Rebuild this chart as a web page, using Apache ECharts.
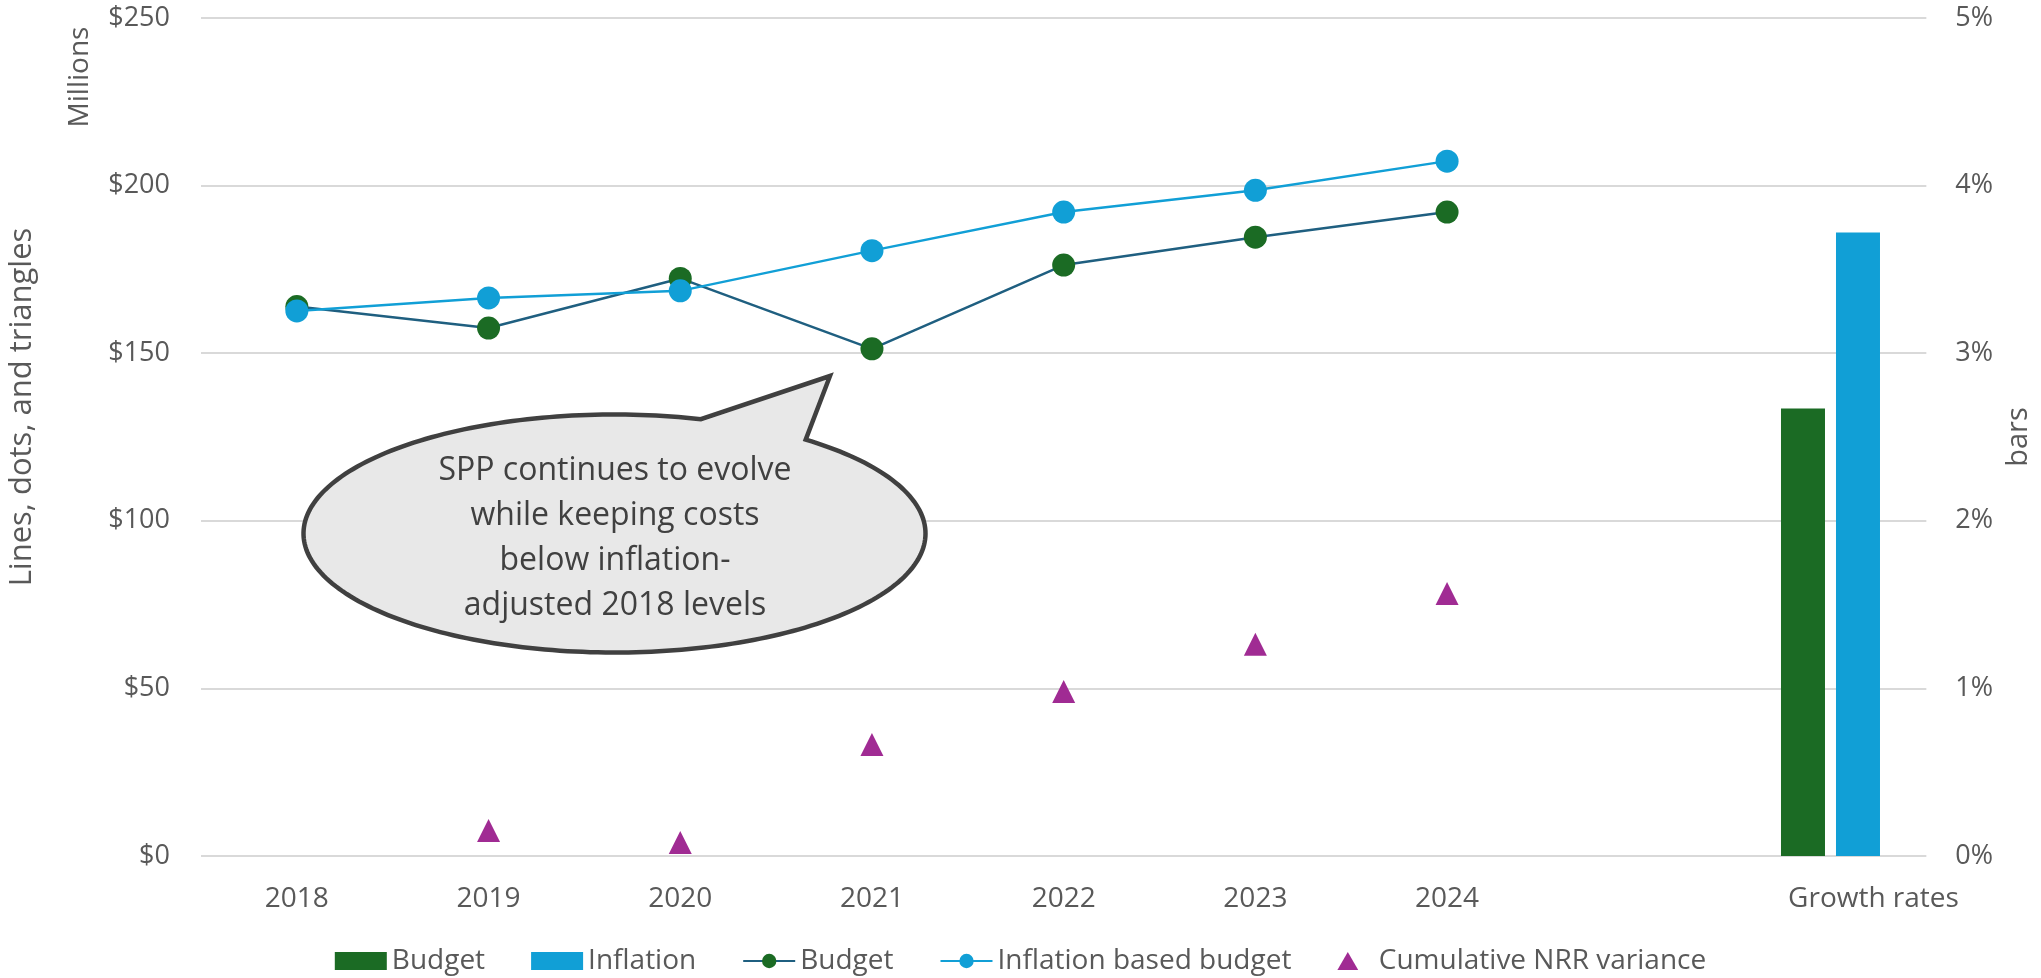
<!DOCTYPE html>
<html>
<head>
<meta charset="utf-8">
<script src="https://cdn.jsdelivr.net/npm/echarts@6/dist/echarts.min.js"></script>
<style>
html,body{margin:0;padding:0;background:#fff;}
#chart{width:2041px;height:978px;}
</style>
</head>
<body>
<div id="chart"></div>
<script>
// ---- data ----
const categories = ['2018','2019','2020','2021','2022','2023','2024','','Growth rates'];
const budgetLine = [163.9, 157.5, 172.3, 151.3, 176.3, 184.6, 192.1, null, null];
const inflationBudgetLine = [162.6, 166.5, 168.6, 180.6, 192.1, 198.6, 207.3, null, null];
const nrrVariance = [null, 7.6, 4.0, 33.3, 49.1, 63.2, 78.3, null, null];
const budgetGrowth = [null, null, null, null, null, null, null, null, 2.67];
const inflationGrowth = [null, null, null, null, null, null, null, null, 3.72];
const leftTicks = { min: 0, max: 250, interval: 50 };
const rightTicks = { min: 0, max: 5, interval: 1 };
const calloutLines = ['SPP continues to evolve', 'while keeping costs', 'below inflation-', 'adjusted 2018 levels'];

const FONT = '"Open Sans", "Noto Sans", sans-serif';
const GREY = '#595959';
const chart = echarts.init(document.getElementById('chart'), null, { renderer: 'canvas' });

// callout bubble geometry (annotation shape, not a data mark)
const cx = 614.5, cy = 533.5, rx = 311, ry = 119;
function ellAngle(x) {
  const d = (x - cx) / rx;
  return Math.atan2(-Math.sqrt(1 - d * d), d);
}
const tBL = ellAngle(700.8), tBR = ellAngle(805.7);
const tip = [830, 376];
const bubblePts = [];
const tStart = tBR, tEnd = tBL + 2 * Math.PI;
const N = 240;
for (let i = 0; i <= N; i++) {
  const t = tStart + (tEnd - tStart) * i / N;
  bubblePts.push([cx + rx * Math.cos(t), cy + ry * Math.sin(t)]);
}
bubblePts.push(tip);

const option = {
  backgroundColor: '#ffffff',
  animation: false,
  textStyle: { fontFamily: FONT },
  grid: { left: 201, right: 114, top: 18, bottom: 122, containLabel: false },
  legend: {
    top: 942,
    left: 'center',
    itemWidth: 52,
    itemHeight: 18,
    itemGap: 46,
    symbolKeepAspect: true,
    textStyle: { color: GREY, fontSize: 28, fontFamily: FONT },
    formatter: n => n.trim(),
    data: [
      { name: 'Budget', icon: 'rect' },
      { name: 'Inflation', icon: 'rect' },
      'Budget ',
      'Inflation based budget',
      { name: 'Cumulative NRR variance', icon: 'path://M11,0L22,19L0,19Z' }
    ]
  },
  xAxis: {
    type: 'category',
    data: categories,
    axisLine: { show: false },
    axisTick: { show: false },
    axisLabel: {
      color: GREY, fontSize: 28, fontFamily: FONT, margin: 29, interval: 0,
      formatter: v => v === 'Growth rates' ? '{g|' + v + '}' : v,
      rich: { g: { color: GREY, fontSize: 28, fontFamily: FONT, padding: [0, 0, 0, 86] } }
    },
    splitLine: { show: false }
  },
  yAxis: [
    {
      type: 'value', min: leftTicks.min, max: leftTicks.max, interval: leftTicks.interval,
      axisLine: { show: false }, axisTick: { show: false },
      axisLabel: { color: GREY, fontSize: 27, fontFamily: FONT, margin: 31, formatter: v => '$' + v },
      splitLine: { show: true, lineStyle: { color: '#d9d9d9', width: 2 } }
    },
    {
      type: 'value', min: rightTicks.min, max: rightTicks.max, interval: rightTicks.interval,
      position: 'right',
      axisLine: { show: false }, axisTick: { show: false },
      axisLabel: { color: GREY, fontSize: 27, fontFamily: FONT, margin: 29, formatter: v => v + '%' },
      splitLine: { show: false },
      name: 'bars', nameLocation: 'middle', nameRotate: 90, nameGap: 76,
      nameTextStyle: { color: GREY, fontSize: 29, fontFamily: FONT }
    }
  ],
  series: [
    {
      name: 'Budget', type: 'bar', yAxisIndex: 1, data: budgetGrowth,
      barWidth: 44, barGap: '25%', itemStyle: { color: '#1b6b24' }
    },
    {
      name: 'Inflation', type: 'bar', yAxisIndex: 1, data: inflationGrowth,
      barWidth: 44, barGap: '25%', itemStyle: { color: '#119fd6' }
    },
    {
      name: 'Budget ', type: 'line', yAxisIndex: 0, data: budgetLine,
      symbol: 'circle', symbolSize: 23, showSymbol: true,
      itemStyle: { color: '#1b6b24' },
      lineStyle: { color: '#1f5f80', width: 2.5 }, z: 3
    },
    {
      name: 'Inflation based budget', type: 'line', yAxisIndex: 0, data: inflationBudgetLine,
      symbol: 'circle', symbolSize: 23, showSymbol: true,
      itemStyle: { color: '#119fd6' },
      lineStyle: { color: '#119fd6', width: 2.5 }, z: 4
    },
    {
      name: 'Cumulative NRR variance', type: 'scatter', yAxisIndex: 0, data: nrrVariance,
      symbol: 'triangle', symbolSize: 23,
      itemStyle: { color: '#a02b93', opacity: 1 }, z: 5
    }
  ],
  graphic: [
    {
      type: 'text', rotation: Math.PI / 2, z: 10,
      x: 22, y: 407,
      style: { text: 'Lines, dots, and triangles', fill: GREY, font: '31px ' + FONT, align: 'center', verticalAlign: 'middle' }
    },
    {
      type: 'text', rotation: Math.PI / 2, z: 10,
      x: 80, y: 77,
      style: { text: 'Millions', fill: GREY, font: '28px ' + FONT, align: 'center', verticalAlign: 'middle' }
    },
    {
      type: 'polygon', z: 20,
      shape: { points: bubblePts },
      style: { fill: '#e8e8e8', stroke: '#404040', lineWidth: 4.5, lineJoin: 'miter' }
    },
    {
      type: 'text', z: 21, x: 615, y: 538,
      style: { text: calloutLines.join('\n'), fill: '#404040', font: '32px ' + FONT, lineHeight: 45, align: 'center', verticalAlign: 'middle' }
    }
  ]
};
chart.setOption(option);
</script>
</body>
</html>
